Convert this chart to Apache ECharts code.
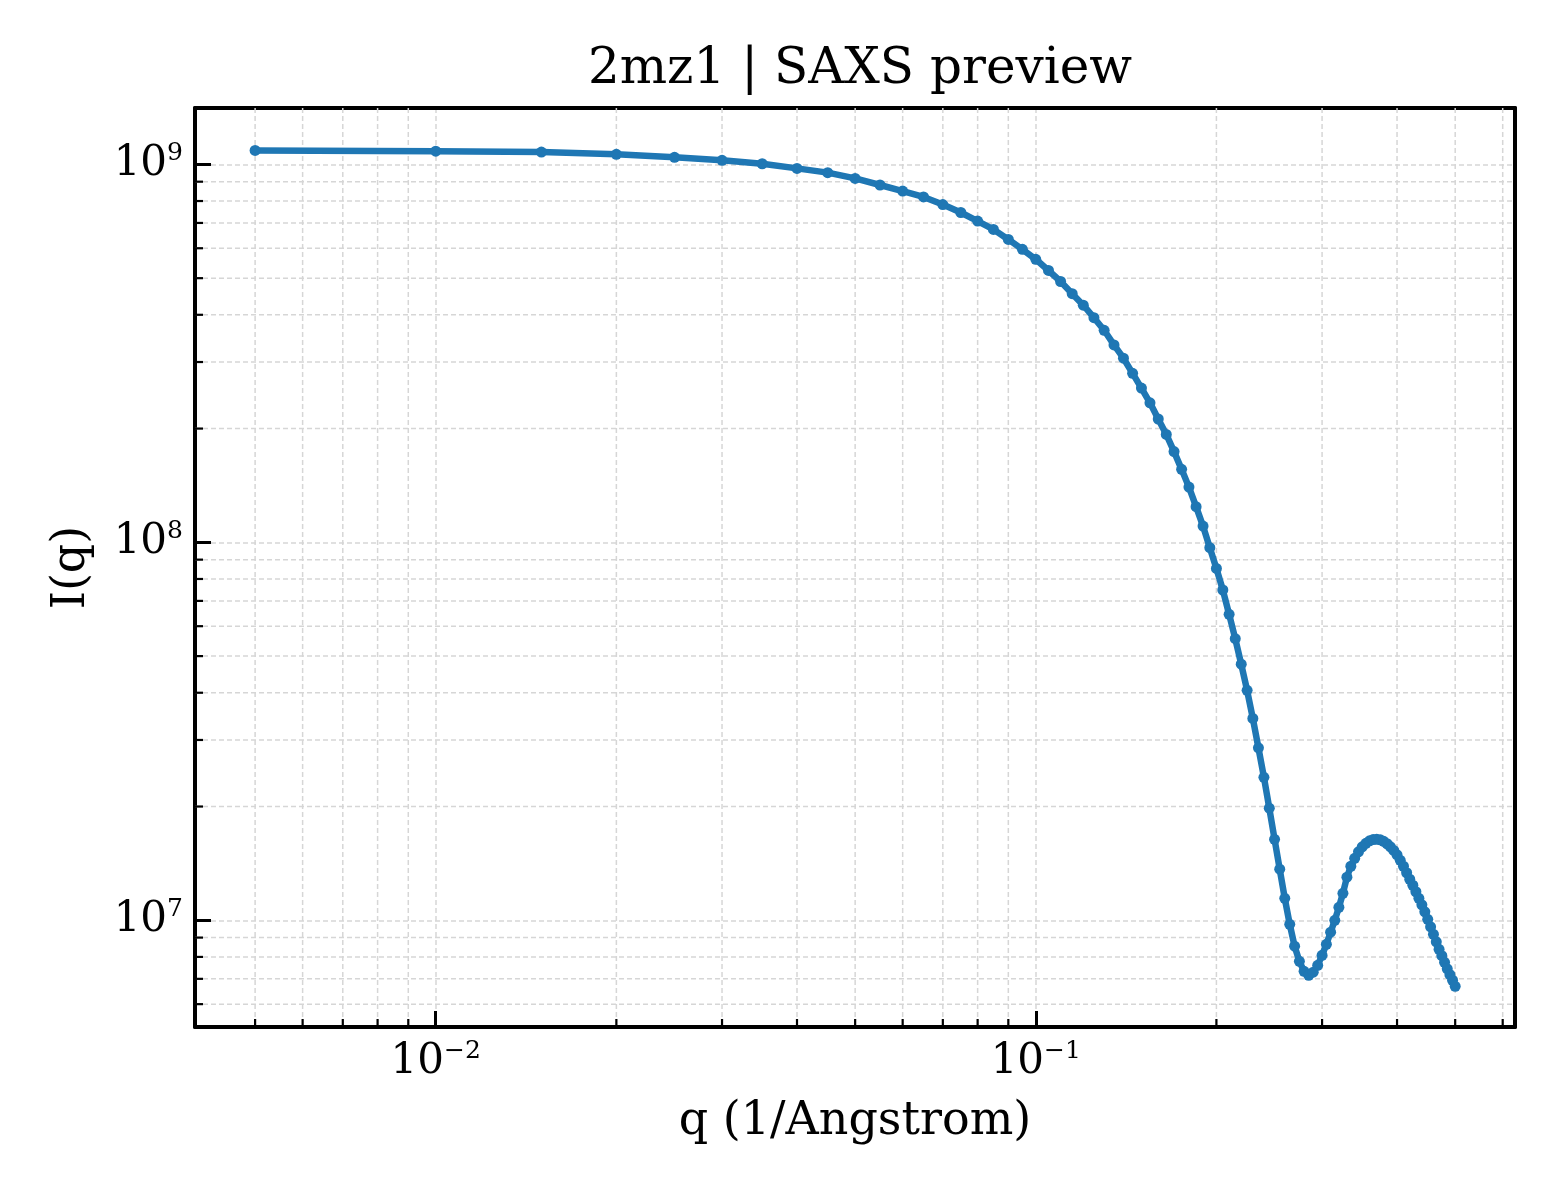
<!DOCTYPE html>
<html>
<head>
<meta charset="utf-8">
<script src="https://cdn.jsdelivr.net/npm/echarts@6/dist/echarts.min.js"></script>
<style>
html, body { margin: 0; padding: 0; background: #fff; }
#main { width: 1560px; height: 1200px; }
</style>
</head>
<body>
<div id="main"></div>
<script>
var q = [
    0.005, 0.01, 0.015, 0.02, 0.025, 0.03, 0.035, 0.04, 0.045, 0.05,
    0.055, 0.06, 0.065, 0.07, 0.075, 0.08, 0.085, 0.09, 0.095, 0.1,
    0.105, 0.11, 0.115, 0.12, 0.125, 0.13, 0.135, 0.14, 0.145, 0.15,
    0.155, 0.16, 0.165, 0.17, 0.175, 0.18, 0.185, 0.19, 0.195, 0.2,
    0.205, 0.21, 0.215, 0.22, 0.225, 0.23, 0.235, 0.24, 0.245, 0.25,
    0.255, 0.26, 0.265, 0.27, 0.275, 0.28, 0.285, 0.29, 0.295, 0.3,
    0.305, 0.31, 0.315, 0.32, 0.325, 0.33, 0.335, 0.34, 0.345, 0.35,
    0.355, 0.36, 0.365, 0.37, 0.375, 0.38, 0.385, 0.39, 0.395, 0.4,
    0.405, 0.41, 0.415, 0.42, 0.425, 0.43, 0.435, 0.44, 0.445, 0.45,
    0.455, 0.46, 0.465, 0.47, 0.475, 0.48, 0.485, 0.49, 0.495, 0.5
];

var intensity = [
    1.089e9, 1.084e9, 1.078e9, 1.063e9, 1.044e9, 1.025e9, 1.004e9, 9.76e8, 9.51e8, 9.18e8,
    8.82e8, 8.50e8, 8.20e8, 7.83e8, 7.46e8, 7.08e8, 6.73e8, 6.33e8, 5.96e8, 5.61e8,
    5.24e8, 4.90e8, 4.55e8, 4.24e8, 3.93e8, 3.64e8, 3.33e8, 3.07e8, 2.80e8, 2.56e8,
    2.34e8, 2.12e8, 1.93e8, 1.738e8, 1.56e8, 1.40e8, 1.243e8, 1.104e8, 9.68e7, 8.53e7,
    7.48e7, 6.45e7, 5.56e7, 4.76e7, 4.06e7, 3.42e7, 2.86e7, 2.39e7, 1.98e7, 1.638e7,
    1.365e7, 1.143e7, 9.76e6, 8.54e6, 7.79e6, 7.33e6, 7.15e6, 7.29e6, 7.60e6, 8.08e6,
    8.64e6, 9.30e6, 1.0e7, 1.082e7, 1.179e7, 1.30e7, 1.39e7, 1.459e7, 1.518e7, 1.565e7,
    1.598e7, 1.623e7, 1.635e7, 1.638e7, 1.633e7, 1.618e7, 1.594e7, 1.565e7, 1.531e7, 1.49e7,
    1.441e7, 1.39e7, 1.336e7, 1.284e7, 1.238e7, 1.19e7, 1.143e7, 1.099e7, 1.053e7, 1.006e7,
    9.61e6, 9.18e6, 8.77e6, 8.38e6, 8.06e6, 7.74e6, 7.44e6, 7.18e6, 6.94e6, 6.69e6
];

// minor tick values (2..9 x 10^k)
var minorQ = [
    0.004, 0.005, 0.006, 0.007, 0.008, 0.009,
    0.02, 0.03, 0.04, 0.05, 0.06, 0.07, 0.08, 0.09,
    0.2, 0.3, 0.4, 0.5, 0.6
];
var minorI = [
    6e6, 7e6, 8e6, 9e6,
    2e7, 3e7, 4e7, 5e7, 6e7, 7e7, 8e7, 9e7,
    2e8, 3e8, 4e8, 5e8, 6e8, 7e8, 8e8, 9e8
];

var X_MIN = 0.00397, X_MAX = 0.629;
var Y_MIN = 5.22e6, Y_MAX = 1.41e9;

var FONT = 'DejaVu Serif';
var GRID_COLOR = '#d6d6d6';

// 10^n as rich text
function powLabel(v) {
    var e = Math.log10(v);
    var n = Math.round(e);
    if (Math.abs(e - n) > 1e-6) {
        return '';
    }
    var exp = n < 0 ? '\u2212' + (-n) : '' + n;
    return '{b|10}{s|' + exp + '}';
}

var labelRich = {
    b: { fontFamily: FONT, fontSize: 42, lineHeight: 46, color: '#000' },
    s: { fontFamily: FONT, fontSize: 25, lineHeight: 24, verticalAlign: 'top', color: '#000' }
};

function logAxis(pos, min, max) {
    return {
        type: 'log',
        logBase: 10,
        position: pos,
        min: min,
        max: max,
        axisLine: { show: true, onZero: false, lineStyle: { color: '#000', width: 4 } },
        axisTick: { show: true, inside: true, length: 16, lineStyle: { color: '#000', width: 3 } },
        axisLabel: {
            formatter: powLabel,
            rich: labelRich,
            margin: 12,
            showMinLabel: false,
            showMaxLabel: false
        },
        splitLine: {
            show: true,
            showMinLine: false,
            showMaxLine: false,
            lineStyle: { color: GRID_COLOR, width: 1.5, type: [5, 3] }
        },
        minorTick: { show: false },
        minorSplitLine: { show: false }
    };
}

// plain frame edge for top / right
function frameAxis(pos, min, max) {
    return {
        type: 'log',
        position: pos,
        min: min,
        max: max,
        axisLine: { show: true, onZero: false, lineStyle: { color: '#000', width: 4 } },
        axisTick: { show: false },
        axisLabel: { show: false },
        splitLine: { show: false }
    };
}

// minor grid + inward minor ticks (bottom / left only)
function minorX(params, api) {
    var cs = params.coordSys;
    var x = api.coord([api.value(0), 1e8])[0];
    if (x - cs.x < 4 || cs.x + cs.width - x < 4) {
        return null;
    }
    var top = cs.y, bot = cs.y + cs.height;
    return {
        type: 'group',
        children: [
            { type: 'line', shape: { x1: x, y1: top, x2: x, y2: bot },
              style: { stroke: GRID_COLOR, lineWidth: 1.5, lineDash: [5, 3] } },
            { type: 'line', shape: { x1: x, y1: bot, x2: x, y2: bot - 8 },
              style: { stroke: '#000', lineWidth: 2.2 } }
        ]
    };
}

function minorY(params, api) {
    var cs = params.coordSys;
    var y = api.coord([0.01, api.value(1)])[1];
    if (y - cs.y < 4 || cs.y + cs.height - y < 4) {
        return null;
    }
    var left = cs.x, right = cs.x + cs.width;
    return {
        type: 'group',
        children: [
            { type: 'line', shape: { x1: left, y1: y, x2: right, y2: y },
              style: { stroke: GRID_COLOR, lineWidth: 1.5, lineDash: [5, 3] } },
            { type: 'line', shape: { x1: left, y1: y, x2: left + 8, y2: y },
              style: { stroke: '#000', lineWidth: 2.2 } }
        ]
    };
}

var points = [];
for (var i = 0; i < q.length; i++) {
    points.push([q[i], intensity[i]]);
}

var xBottom = logAxis('bottom', X_MIN, X_MAX);
xBottom.name = 'q (1/Angstrom)';
xBottom.nameLocation = 'middle';
xBottom.nameGap = 72;
xBottom.nameTextStyle = { fontFamily: FONT, fontSize: 46, color: '#000' };

var yLeft = logAxis('left', Y_MIN, Y_MAX);
yLeft.name = 'I(q)';
yLeft.nameLocation = 'middle';
yLeft.nameGap = 100;
yLeft.nameTextStyle = { fontFamily: FONT, fontSize: 46, color: '#000' };

var chart = echarts.init(document.getElementById('main'), null, { renderer: 'canvas' });

chart.setOption({
    animation: false,
    backgroundColor: '#fff',
    title: {
        text: '2mz1 | SAXS preview',
        left: 855,
        top: 40,
        textAlign: 'center',
        textStyle: { fontFamily: FONT, fontSize: 50, fontWeight: 'normal', color: '#000' }
    },
    grid: { left: 195, right: 45, top: 108, bottom: 173, containLabel: false },
    xAxis: [xBottom, frameAxis('top', X_MIN, X_MAX)],
    yAxis: [yLeft, frameAxis('right', Y_MIN, Y_MAX)],
    series: [
        {
            type: 'custom',
            z: 1,
            silent: true,
            renderItem: minorX,
            data: minorQ.map(function (v) { return [v, 1e8]; })
        },
        {
            type: 'custom',
            z: 1,
            silent: true,
            renderItem: minorY,
            data: minorI.map(function (v) { return [0.01, v]; })
        },
        {
            type: 'line',
            z: 3,
            data: points,
            symbol: 'circle',
            symbolSize: 11,
            showSymbol: true,
            showAllSymbol: true,
            lineStyle: { color: '#1f77b4', width: 6.5 },
            itemStyle: { color: '#1f77b4' }
        }
    ]
});
</script>
</body>
</html>
